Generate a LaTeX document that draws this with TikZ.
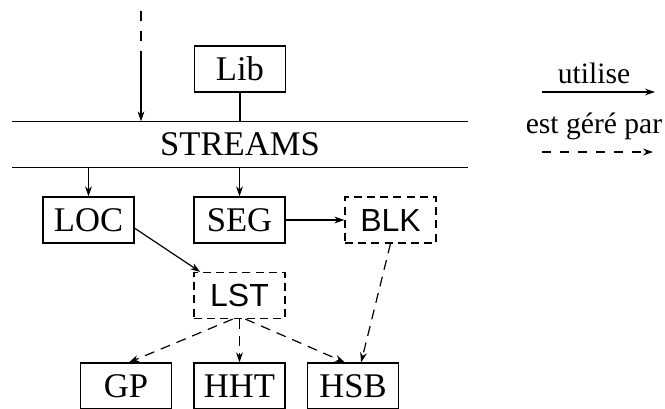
\documentclass[tikz,border=0pt]{standalone}
\usepackage{fontspec}
\setmainfont{Liberation Serif}
\newfontfamily\hv{Liberation Sans}
\usetikzlibrary{arrows.meta,calc}
\begin{document}
\begin{tikzpicture}[x=0.5pt,y=-0.5pt,line width=0.6pt,
  >={Stealth[length=5pt,width=3.4pt,inset=1.6pt]},
  box/.style={draw,minimum width=45.5pt,minimum height=23pt,inner sep=0pt,font=\fontsize{17.3}{18}\selectfont},
  dbox/.style={box,dash pattern=on 4pt off 2.6pt,font=\hv\fontsize{16}{18}\selectfont},
  dline/.style={dash pattern=on 5pt off 3.5pt},
  leg/.style={font=\fontsize{14.8}{16}\selectfont,inner sep=0pt}]
\useasboundingbox[fill=white] (0,0) rectangle (665,408);
\clip (0,0) rectangle (665,408);
% nodes
\node[box] (lib) at (240,69) {Lib};
\node[minimum width=227pt,minimum height=22.5pt,inner sep=0pt,font=\fontsize{17.3}{18}\selectfont] (streams) at (240,144.5) {STREAMS};
\draw (streams.north west) -- (streams.north east);
\draw (streams.south west) -- (streams.south east);
\node[box] (loc) at (88.5,220) {LOC};
\node[box] (seg) at (239.5,220) {SEG};
\node[dbox] (blk) at (390.5,220) {BLK};
\node[dbox] (lst) at (239.5,295.5) {LST};
\node[box] (gp) at (126,386) {GP};
\node[box] (hht) at (239.5,386) {HHT};
\node[box] (hsb) at (353,386) {HSB};
% top incoming arrow
\coordinate (ina) at (141,11);
\coordinate (inb) at (141,41);
\coordinate (inc) at (141,51);
\draw[dash pattern=on 5pt off 5pt] (ina) -- (inb);
\draw[->] (inc) -- (inc |- streams.north);
% connectors
\draw (lib.south) -- (lib.south |- streams.north);
\draw[->] (loc.north |- streams.south) -- (loc.north);
\draw[->] (seg.north |- streams.south) -- (seg.north);
\draw[->] (seg.east) -- (blk.west);
\draw[->] (loc.-10) -- (lst.149);
\draw[->,dline] (lst.254) -- (gp.83);
\draw[->,dline] (lst.south) -- (hht.north);
\draw[->,dline] (lst.-76) -- (hsb.109);
\draw[->,dline] (blk.south) -- (hsb.71);
% legend
\node[leg,anchor=base] (l1) at (594,83) {utilise};
\node[leg,anchor=base] (l2) at (594,133) {est géré par};
\coordinate (a1) at (542,92);
\coordinate (b1) at (655,92);
\coordinate (a2) at (542,152);
\coordinate (b2) at (653,152);
\draw[->] (a1) -- (b1);
\draw[->,dash pattern=on 4.5pt off 4.5pt] (a2) -- (b2);
\end{tikzpicture}
\end{document}
